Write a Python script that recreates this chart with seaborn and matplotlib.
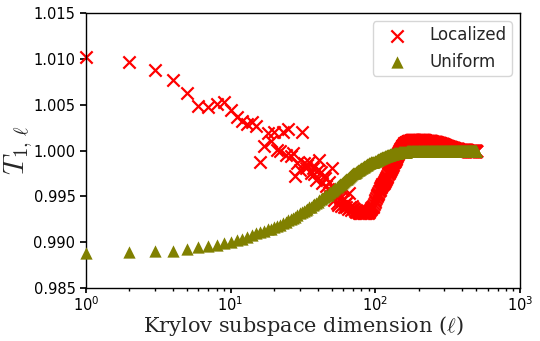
import numpy as np
import pandas as pd
import matplotlib
matplotlib.use("Agg")
import matplotlib.pyplot as plt
import seaborn as sns

# ---------------- data ----------------
# Krylov subspace dimension l = 1 .. 500
ell = np.arange(1, 501)

loc_1_100 = [
    1.0102, 1.0097, 1.0088, 1.0077, 1.0063, 1.0049, 1.0047, 1.0051, 1.0053, 1.0044,
    1.0037, 1.0032, 1.0029, 1.0031, 1.0027, 0.9988, 1.0005, 1.0019, 1.0010, 1.0020,
    1.0001, 0.9999, 1.0020, 0.9995, 1.0023, 0.9994, 0.9997, 0.9972, 0.9986, 0.9979,
    1.0020, 0.9986, 0.9981, 0.9984, 0.9988, 0.9976, 0.9981, 0.9974, 0.9968, 0.9979,
    0.9990, 0.9977, 0.9965, 0.9972, 0.9970, 0.9961, 0.9958, 0.9966, 0.9950, 0.9981,
    0.9954, 0.9946, 0.9957, 0.9943, 0.9941, 0.9950, 0.9948, 0.9940, 0.9945, 0.9957,
    0.9939, 0.9942, 0.9939, 0.9944, 0.9936, 0.9954, 0.9938, 0.9935, 0.9940, 0.9937,
    0.9936, 0.9934, 0.9935, 0.9933, 0.9934, 0.9933, 0.9932, 0.9933, 0.9932, 0.9932,
    0.9933, 0.9932, 0.9932, 0.9933, 0.9932, 0.9932, 0.9933, 0.9933, 0.9932, 0.9933,
    0.9934, 0.9935, 0.9936, 0.9937, 0.9938, 0.9939, 0.9940, 0.9942, 0.9944, 0.9946,
]
loc_101_200 = [
    0.9948, 0.9950, 0.9951, 0.9953, 0.9954, 0.9956, 0.9957, 0.9959, 0.9960, 0.9961,
    0.9962, 0.9963, 0.9964, 0.9965, 0.9966, 0.9967, 0.9968, 0.9969, 0.9970, 0.9971,
    0.9972, 0.9974, 0.9975, 0.9976, 0.9977, 0.9978, 0.9979, 0.9980, 0.9981, 0.9982,
    0.9983, 0.9984, 0.9986, 0.9987, 0.9988, 0.9989, 0.9990, 0.9991, 0.9992, 0.9993,
    0.9994, 0.9995, 0.9996, 0.9997, 0.9998, 0.9999, 1.0000, 1.0001, 1.0002, 1.0003,
    1.0003, 1.0004, 1.0005, 1.0005, 1.0006, 1.0006, 1.0007, 1.0007, 1.0008, 1.0008,
    1.0008, 1.0008, 1.0009, 1.0009, 1.0009, 1.0009, 1.0010, 1.0010, 1.0010, 1.0010,
    1.0010, 1.0010, 1.0010, 1.0010, 1.0010, 1.0011, 1.0011, 1.0011, 1.0011, 1.0011,
    1.0011, 1.0011, 1.0011, 1.0011, 1.0011, 1.0011, 1.0011, 1.0011, 1.0011, 1.0011,
    1.0011, 1.0011, 1.0011, 1.0011, 1.0011, 1.0011, 1.0011, 1.0011, 1.0011, 1.0011,
]
loc_201_300 = [
    1.0011, 1.0011, 1.0011, 1.0011, 1.0011, 1.0011, 1.0011, 1.0011, 1.0011, 1.0011,
    1.0011, 1.0011, 1.0011, 1.0011, 1.0011, 1.0011, 1.0011, 1.0011, 1.0011, 1.0011,
    1.0010, 1.0010, 1.0010, 1.0010, 1.0010, 1.0010, 1.0010, 1.0010, 1.0010, 1.0010,
    1.0010, 1.0010, 1.0010, 1.0010, 1.0010, 1.0010, 1.0010, 1.0010, 1.0010, 1.0010,
    1.0010, 1.0010, 1.0010, 1.0010, 1.0010, 1.0009, 1.0009, 1.0009, 1.0009, 1.0009,
    1.0009, 1.0009, 1.0009, 1.0009, 1.0009, 1.0009, 1.0009, 1.0009, 1.0009, 1.0009,
    1.0009, 1.0009, 1.0009, 1.0009, 1.0009, 1.0008, 1.0008, 1.0008, 1.0008, 1.0008,
    1.0008, 1.0008, 1.0008, 1.0008, 1.0008, 1.0008, 1.0008, 1.0008, 1.0008, 1.0008,
    1.0007, 1.0007, 1.0007, 1.0007, 1.0007, 1.0007, 1.0007, 1.0007, 1.0007, 1.0007,
    1.0007, 1.0007, 1.0007, 1.0007, 1.0007, 1.0006, 1.0006, 1.0006, 1.0006, 1.0006,
]
loc_301_400 = [
    1.0006, 1.0006, 1.0006, 1.0006, 1.0006, 1.0005, 1.0005, 1.0005, 1.0005, 1.0005,
    1.0005, 1.0005, 1.0005, 1.0005, 1.0005, 1.0005, 1.0005, 1.0004, 1.0004, 1.0004,
    1.0004, 1.0004, 1.0004, 1.0004, 1.0004, 1.0004, 1.0004, 1.0004, 1.0004, 1.0004,
    1.0004, 1.0004, 1.0004, 1.0003, 1.0003, 1.0003, 1.0003, 1.0003, 1.0003, 1.0003,
    1.0003, 1.0003, 1.0003, 1.0003, 1.0003, 1.0003, 1.0003, 1.0003, 1.0003, 1.0003,
    1.0003, 1.0002, 1.0002, 1.0002, 1.0002, 1.0002, 1.0002, 1.0002, 1.0002, 1.0002,
    1.0002, 1.0002, 1.0002, 1.0002, 1.0002, 1.0002, 1.0002, 1.0002, 1.0002, 1.0002,
    1.0002, 1.0002, 1.0002, 1.0002, 1.0002, 1.0001, 1.0001, 1.0001, 1.0001, 1.0001,
    1.0001, 1.0001, 1.0001, 1.0001, 1.0001, 1.0001, 1.0001, 1.0001, 1.0001, 1.0001,
    1.0001, 1.0001, 1.0001, 1.0001, 1.0001, 1.0001, 1.0001, 1.0001, 1.0001, 1.0001,
]
loc_401_500 = [
    1.0001, 1.0001, 1.0001, 1.0001, 1.0001, 1.0001, 1.0001, 1.0001, 1.0001, 1.0001,
    1.0001, 1.0001, 1.0001, 1.0001, 1.0001, 1.0001, 1.0001, 1.0001, 1.0001, 1.0001,
    1.0001, 1.0001, 1.0001, 1.0001, 1.0001, 1.0001, 1.0001, 1.0001, 1.0001, 1.0001,
    1.0000, 1.0000, 1.0000, 1.0000, 1.0000, 1.0000, 1.0000, 1.0000, 1.0000, 1.0000,
    1.0000, 1.0000, 1.0000, 1.0000, 1.0000, 1.0000, 1.0000, 1.0000, 1.0000, 1.0000,
    1.0000, 1.0000, 1.0000, 1.0000, 1.0000, 1.0000, 1.0000, 1.0000, 1.0000, 1.0000,
    1.0000, 1.0000, 1.0000, 1.0000, 1.0000, 1.0000, 1.0000, 1.0000, 1.0000, 1.0000,
    1.0000, 1.0000, 1.0000, 1.0000, 1.0000, 1.0000, 1.0000, 1.0000, 1.0000, 1.0000,
    1.0000, 1.0000, 1.0000, 1.0000, 1.0000, 1.0000, 1.0000, 1.0000, 1.0000, 1.0000,
    1.0000, 1.0000, 1.0000, 1.0000, 1.0000, 1.0000, 1.0000, 1.0000, 1.0000, 1.0000,
]

uni_1_100 = [
    0.9888, 0.9889, 0.9890, 0.9891, 0.9893, 0.9895, 0.9896, 0.9897, 0.9899, 0.9900,
    0.9902, 0.9904, 0.9906, 0.9908, 0.9910, 0.9911, 0.9912, 0.9914, 0.9915, 0.9917,
    0.9918, 0.9919, 0.9921, 0.9922, 0.9924, 0.9925, 0.9927, 0.9928, 0.9930, 0.9932,
    0.9933, 0.9934, 0.9935, 0.9936, 0.9938, 0.9939, 0.9941, 0.9942, 0.9943, 0.9944,
    0.9946, 0.9947, 0.9948, 0.9949, 0.9950, 0.9951, 0.9952, 0.9954, 0.9955, 0.9956,
    0.9957, 0.9958, 0.9959, 0.9960, 0.9961, 0.9962, 0.9963, 0.9964, 0.9965, 0.9966,
    0.9967, 0.9968, 0.9969, 0.9969, 0.9970, 0.9971, 0.9972, 0.9973, 0.9974, 0.9975,
    0.9975, 0.9976, 0.9977, 0.9977, 0.9978, 0.9979, 0.9979, 0.9980, 0.9980, 0.9981,
    0.9981, 0.9982, 0.9982, 0.9983, 0.9983, 0.9984, 0.9984, 0.9985, 0.9985, 0.9986,
    0.9986, 0.9986, 0.9987, 0.9987, 0.9987, 0.9988, 0.9988, 0.9988, 0.9989, 0.9989,
]
uni_101_200 = [
    0.9989, 0.9990, 0.9990, 0.9990, 0.9991, 0.9991, 0.9991, 0.9992, 0.9992, 0.9992,
    0.9992, 0.9993, 0.9993, 0.9993, 0.9993, 0.9994, 0.9994, 0.9994, 0.9994, 0.9994,
    0.9995, 0.9995, 0.9995, 0.9995, 0.9995, 0.9995, 0.9996, 0.9996, 0.9996, 0.9996,
    0.9996, 0.9996, 0.9996, 0.9997, 0.9997, 0.9997, 0.9997, 0.9997, 0.9997, 0.9997,
    0.9997, 0.9997, 0.9997, 0.9997, 0.9998, 0.9998, 0.9998, 0.9998, 0.9998, 0.9998,
    0.9998, 0.9998, 0.9998, 0.9998, 0.9998, 0.9998, 0.9998, 0.9998, 0.9998, 0.9998,
    0.9998, 0.9998, 0.9998, 0.9998, 0.9999, 0.9999, 0.9999, 0.9999, 0.9999, 0.9999,
    0.9999, 0.9999, 0.9999, 0.9999, 0.9999, 0.9999, 0.9999, 0.9999, 0.9999, 0.9999,
    0.9999, 0.9999, 0.9999, 0.9999, 0.9999, 0.9999, 0.9999, 0.9999, 0.9999, 0.9999,
    0.9999, 0.9999, 0.9999, 0.9999, 0.9999, 0.9999, 0.9999, 0.9999, 0.9999, 0.9999,
]
uni_201_500 = [
    1.0000, 1.0000, 1.0000, 1.0000, 1.0000, 1.0000, 1.0000, 1.0000, 1.0000, 1.0000,
    1.0000, 1.0000, 1.0000, 1.0000, 1.0000, 1.0000, 1.0000, 1.0000, 1.0000, 1.0000,
    1.0000, 1.0000, 1.0000, 1.0000, 1.0000, 1.0000, 1.0000, 1.0000, 1.0000, 1.0000,
    1.0000, 1.0000, 1.0000, 1.0000, 1.0000, 1.0000, 1.0000, 1.0000, 1.0000, 1.0000,
    1.0000, 1.0000, 1.0000, 1.0000, 1.0000, 1.0000, 1.0000, 1.0000, 1.0000, 1.0000,
    1.0000, 1.0000, 1.0000, 1.0000, 1.0000, 1.0000, 1.0000, 1.0000, 1.0000, 1.0000,
    1.0000, 1.0000, 1.0000, 1.0000, 1.0000, 1.0000, 1.0000, 1.0000, 1.0000, 1.0000,
    1.0000, 1.0000, 1.0000, 1.0000, 1.0000, 1.0000, 1.0000, 1.0000, 1.0000, 1.0000,
    1.0000, 1.0000, 1.0000, 1.0000, 1.0000, 1.0000, 1.0000, 1.0000, 1.0000, 1.0000,
    1.0000, 1.0000, 1.0000, 1.0000, 1.0000, 1.0000, 1.0000, 1.0000, 1.0000, 1.0000,
    1.0000, 1.0000, 1.0000, 1.0000, 1.0000, 1.0000, 1.0000, 1.0000, 1.0000, 1.0000,
    1.0000, 1.0000, 1.0000, 1.0000, 1.0000, 1.0000, 1.0000, 1.0000, 1.0000, 1.0000,
    1.0000, 1.0000, 1.0000, 1.0000, 1.0000, 1.0000, 1.0000, 1.0000, 1.0000, 1.0000,
    1.0000, 1.0000, 1.0000, 1.0000, 1.0000, 1.0000, 1.0000, 1.0000, 1.0000, 1.0000,
    1.0000, 1.0000, 1.0000, 1.0000, 1.0000, 1.0000, 1.0000, 1.0000, 1.0000, 1.0000,
    1.0000, 1.0000, 1.0000, 1.0000, 1.0000, 1.0000, 1.0000, 1.0000, 1.0000, 1.0000,
    1.0000, 1.0000, 1.0000, 1.0000, 1.0000, 1.0000, 1.0000, 1.0000, 1.0000, 1.0000,
    1.0000, 1.0000, 1.0000, 1.0000, 1.0000, 1.0000, 1.0000, 1.0000, 1.0000, 1.0000,
    1.0000, 1.0000, 1.0000, 1.0000, 1.0000, 1.0000, 1.0000, 1.0000, 1.0000, 1.0000,
    1.0000, 1.0000, 1.0000, 1.0000, 1.0000, 1.0000, 1.0000, 1.0000, 1.0000, 1.0000,
    1.0000, 1.0000, 1.0000, 1.0000, 1.0000, 1.0000, 1.0000, 1.0000, 1.0000, 1.0000,
    1.0000, 1.0000, 1.0000, 1.0000, 1.0000, 1.0000, 1.0000, 1.0000, 1.0000, 1.0000,
    1.0000, 1.0000, 1.0000, 1.0000, 1.0000, 1.0000, 1.0000, 1.0000, 1.0000, 1.0000,
    1.0000, 1.0000, 1.0000, 1.0000, 1.0000, 1.0000, 1.0000, 1.0000, 1.0000, 1.0000,
    1.0000, 1.0000, 1.0000, 1.0000, 1.0000, 1.0000, 1.0000, 1.0000, 1.0000, 1.0000,
    1.0000, 1.0000, 1.0000, 1.0000, 1.0000, 1.0000, 1.0000, 1.0000, 1.0000, 1.0000,
    1.0000, 1.0000, 1.0000, 1.0000, 1.0000, 1.0000, 1.0000, 1.0000, 1.0000, 1.0000,
    1.0000, 1.0000, 1.0000, 1.0000, 1.0000, 1.0000, 1.0000, 1.0000, 1.0000, 1.0000,
    1.0000, 1.0000, 1.0000, 1.0000, 1.0000, 1.0000, 1.0000, 1.0000, 1.0000, 1.0000,
    1.0000, 1.0000, 1.0000, 1.0000, 1.0000, 1.0000, 1.0000, 1.0000, 1.0000, 1.0000,
]

localized = np.array(loc_1_100 + loc_101_200 + loc_201_300 + loc_301_400 + loc_401_500)
uniform = np.array(uni_1_100 + uni_101_200 + uni_201_500)

series_names = ["Localized", "Uniform"]
y_ticks = [0.985, 0.990, 0.995, 1.000, 1.005, 1.010, 1.015]

df = pd.DataFrame({
    "ell": np.concatenate([ell, ell]),
    "T": np.concatenate([localized, uniform]),
    "kind": [series_names[0]] * len(ell) + [series_names[1]] * len(ell),
})

# ---------------- style ----------------
sns.set_theme(style="ticks")
plt.rcParams.update({
    "font.family": ["DejaVu Sans"],
    "mathtext.fontset": "cm",
    "axes.edgecolor": "black",
    "axes.linewidth": 1.0,
    "xtick.color": "black",
    "ytick.color": "black",
    "xtick.major.size": 3.5,
    "ytick.major.size": 4,
    "xtick.minor.size": 2,
    "xtick.major.pad": 2,
    "xtick.direction": "out",
    "ytick.direction": "out",
})

fig = plt.figure(figsize=(5.4, 3.41), dpi=100)
ax = fig.add_axes([0.159, 0.155, 0.804, 0.807])

sns.scatterplot(data=df[df["kind"] == "Localized"], x="ell", y="T",
                marker="x", color="red", s=78, linewidth=1.6,
                label="Localized", ax=ax, zorder=2, clip_on=False)
sns.scatterplot(data=df[df["kind"] == "Uniform"], x="ell", y="T",
                marker="^", color="olive", s=78, linewidth=0,
                label="Uniform", ax=ax, zorder=3, clip_on=False)

ax.set_xscale("log")
ax.set_xlim(1, 1000)
ax.set_ylim(0.985, 1.015)
ax.set_yticks(y_ticks)
ax.set_yticklabels([f"{t:.3f}" for t in y_ticks])
ax.tick_params(axis="both", labelsize=10.5)
for s in ax.spines.values():
    s.set_visible(True)
    s.set_color("black")

ax.set_xlabel(r"Krylov subspace dimension ($\ell$)", family="DejaVu Serif",
              fontsize=15)
ax.xaxis.set_label_coords(0.5, -0.16)
ax.xaxis.label.set_verticalalignment("baseline")

ax.set_ylabel(r"$T_{1,\,\ell}$", fontsize=21)
ax.yaxis.set_label_coords(-0.117, 0.5)

leg = ax.legend(loc="upper right", fontsize=12, frameon=True,
                handletextpad=0.8, borderpad=0.3, labelspacing=0.5,
                handlelength=2.3)
leg.get_frame().set_edgecolor("#cccccc")

fig.savefig("out.png", dpi=100)
